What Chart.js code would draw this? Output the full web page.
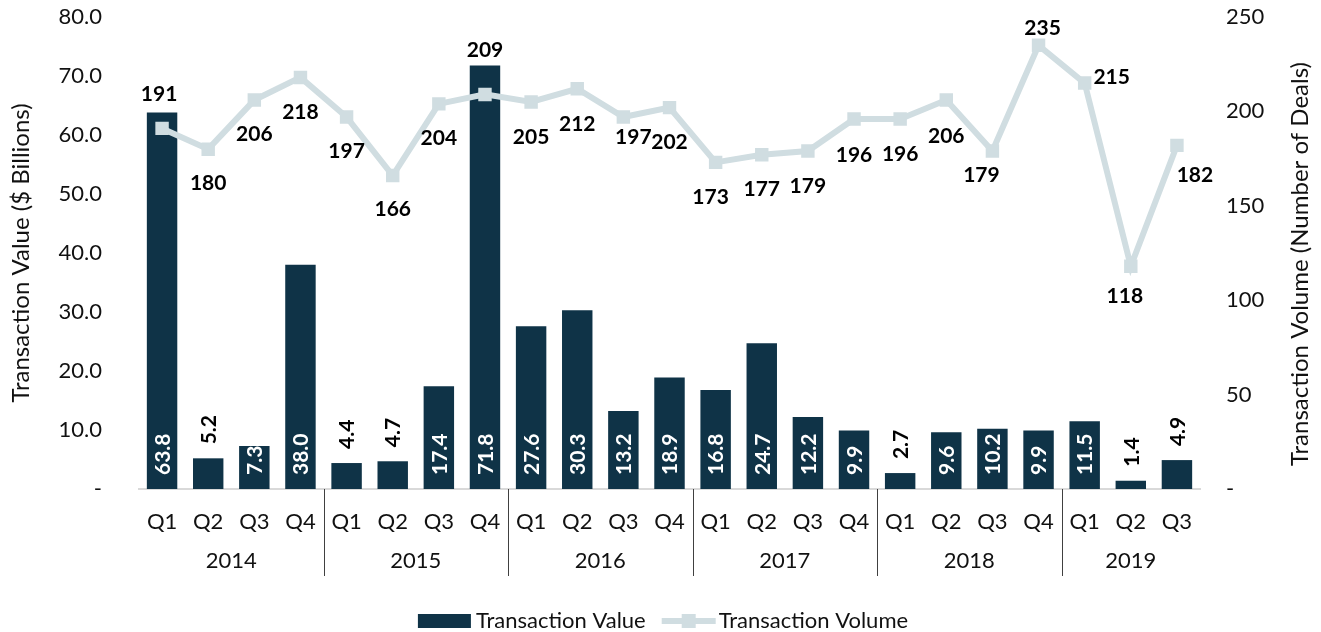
<!DOCTYPE html>
<html><head><meta charset="utf-8">
<script src="https://cdn.jsdelivr.net/npm/chart.js@4/dist/chart.umd.min.js"></script>
<style>html,body{margin:0;padding:0;background:#fff;}#wrap{width:1321px;height:632px;}</style>
</head><body><div id="wrap"><canvas id="c" width="1321" height="632"></canvas></div>
<script>
// ---- data ----
const quarters = ['Q1','Q2','Q3','Q4','Q1','Q2','Q3','Q4','Q1','Q2','Q3','Q4','Q1','Q2','Q3','Q4','Q1','Q2','Q3','Q4','Q1','Q2','Q3'];
const years = ['2014','2015','2016','2017','2018','2019'];
const quartersPerYear = [4,4,4,4,4,3];
const transactionValue = [63.8,5.2,7.3,38.0,4.4,4.7,17.4,71.8,27.6,30.3,13.2,18.9,16.8,24.7,12.2,9.9,2.7,9.6,10.2,9.9,11.5,1.4,4.9];
const transactionVolume = [191,180,206,218,197,166,204,209,205,212,197,202,173,177,179,196,196,206,179,235,215,118,182];
const valueTicks = [0,10,20,30,40,50,60,70,80];
const volumeTicks = [0,50,100,150,200,250];
const rightAxisTitle = 'Transaction Volume (Number of Deals)';
// label placement relative to each line point (style, not data)
const volumeLabelOffsets = [[-3,-34],[0,34],[0,34],[0,35],[0,34],[0,34],[0,34],[0,-44],[0,35],[0,35],[10,20],[0,35],[-5,35],[0,34],[0,35],[0,36],[0,35],[0,36],[-11,24],[4,-17],[27,-6],[-6,30],[18,30]];

const FONT = 'Lato, "Open Sans", sans-serif';
const BAR_COLOR = '#0f3347';
const LINE_COLOR = '#d0dde1';
const TEXT_COLOR = '#111111';

const overlay = {
  id: 'overlay',
  afterDatasetsDraw(chart) {
    const ctx = chart.ctx;
    ctx.save();
    // bar value labels (rotated)
    ctx.font = 'bold 21px ' + FONT;
    chart.getDatasetMeta(0).data.forEach((bar, i) => {
      const txt = transactionValue[i].toFixed(1);
      const w = ctx.measureText(txt).width;
      const h = bar.base - bar.y;
      let start, color;
      if (h > w + 12) { start = bar.base - 14; color = '#ffffff'; }
      else { start = bar.y - 14; color = '#000000'; }
      ctx.save();
      ctx.translate(bar.x, start);
      ctx.rotate(-Math.PI / 2);
      ctx.fillStyle = color;
      ctx.textAlign = 'left';
      ctx.textBaseline = 'middle';
      ctx.fillText(txt, 0, 1);
      ctx.restore();
    });
    // line value labels
    ctx.font = 'bold 21px ' + FONT;
    ctx.fillStyle = '#000';
    ctx.textAlign = 'center';
    ctx.textBaseline = 'middle';
    chart.getDatasetMeta(1).data.forEach((pt, i) => {
      const o = volumeLabelOffsets[i];
      ctx.fillText(String(transactionVolume[i]), pt.x + o[0], pt.y + o[1]);
    });
    ctx.restore();
  },
  afterDraw(chart) {
    const ctx = chart.ctx;
    const xs = chart.scales.x;
    const area = chart.chartArea;
    ctx.save();
    // right axis title, reading upwards
    ctx.save();
    ctx.font = '24px ' + FONT;
    ctx.fillStyle = TEXT_COLOR;
    ctx.textAlign = 'center';
    ctx.textBaseline = 'middle';
    ctx.translate(1300, 264);
    ctx.rotate(-Math.PI / 2);
    ctx.fillText(rightAxisTitle, 0, 0);
    ctx.restore();
    // year group labels and separators
    ctx.font = '22px ' + FONT;
    ctx.fillStyle = TEXT_COLOR;
    ctx.textAlign = 'center';
    ctx.textBaseline = 'middle';
    let idx = 0;
    years.forEach((y, g) => {
      const first = idx, last = idx + quartersPerYear[g] - 1;
      const cx = (xs.getPixelForValue(first) + xs.getPixelForValue(last)) / 2;
      ctx.fillText(y, cx, 561);
      if (g > 0) {
        const sx = Math.round((xs.getPixelForValue(first - 1) + xs.getPixelForValue(first)) / 2) + 0.5;
        ctx.strokeStyle = '#404040';
        ctx.lineWidth = 1;
        ctx.beginPath();
        ctx.moveTo(sx, area.bottom);
        ctx.lineTo(sx, 576);
        ctx.stroke();
      }
      idx += quartersPerYear[g];
    });
    // legend
    ctx.font = '22px ' + FONT;
    const t1 = chart.data.datasets[0].label, t2 = chart.data.datasets[1].label;
    const w1 = ctx.measureText(t1).width, w2 = ctx.measureText(t2).width;
    const box = 53, gap1 = 5, gap2 = 16, lineW = 54, gap3 = 3;
    const total = box + gap1 + w1 + gap2 + lineW + gap3 + w2;
    let x = 663 - total / 2;
    const ly = 621;
    ctx.fillStyle = BAR_COLOR;
    ctx.fillRect(x, ly - 7, box, 14);
    x += box + gap1;
    ctx.fillStyle = TEXT_COLOR;
    ctx.textAlign = 'left';
    ctx.fillText(t1, x, ly);
    x += w1 + gap2;
    ctx.strokeStyle = LINE_COLOR;
    ctx.lineWidth = 6;
    ctx.beginPath();
    ctx.moveTo(x, ly); ctx.lineTo(x + lineW, ly); ctx.stroke();
    ctx.fillStyle = LINE_COLOR;
    ctx.fillRect(x + lineW / 2 - 7, ly - 7, 14, 14);
    x += lineW + gap3;
    ctx.fillStyle = TEXT_COLOR;
    ctx.fillText(t2, x, ly);
    ctx.restore();
  }
};

function noPad(s) { s.paddingTop = 0; s.paddingBottom = 0; s.paddingLeft = 0; s.paddingRight = 0; }

new Chart(document.getElementById('c'), {
  data: {
    labels: quarters,
    datasets: [
      { type: 'bar', label: 'Transaction Value', data: transactionValue, yAxisID: 'y',
        backgroundColor: BAR_COLOR, barPercentage: 0.66, categoryPercentage: 1.0, order: 1 },
      { type: 'line', label: 'Transaction Volume', data: transactionVolume, yAxisID: 'y1',
        borderColor: LINE_COLOR, borderWidth: 6, tension: 0, pointStyle: 'rect', pointRadius: 9.5,
        pointBackgroundColor: LINE_COLOR, pointBorderWidth: 0, pointHoverRadius: 9.5, order: 0 }
    ]
  },
  options: {
    responsive: false,
    animation: false,
    devicePixelRatio: 1,
    layout: { padding: { top: 17, bottom: 0, left: 0, right: 0 } },
    plugins: { legend: { display: false }, tooltip: { enabled: false } },
    scales: {
      x: {
        grid: { display: false },
        border: { display: true, color: '#d9d9d9', width: 2 },
        ticks: { color: TEXT_COLOR, font: { family: FONT, size: 22 }, padding: 12, maxRotation: 0, autoSkip: false },
        afterFit(s) { s.height = 143; noPad(s); }
      },
      y: {
        position: 'left', min: 0, max: 80,
        afterBuildTicks(s) { s.ticks = valueTicks.map(v => ({ value: v })); },
        grid: { display: false }, border: { display: false },
        ticks: { color: TEXT_COLOR, font: { family: FONT, size: 22 }, padding: 29,
          callback: v => v === 0 ? '-' : v.toFixed(1) },
        title: { display: true, text: 'Transaction Value ($ Billions)', color: TEXT_COLOR,
          font: { family: FONT, size: 24 }, padding: { top: 7, bottom: 0 } },
        afterFit(s) { s.width = 139; noPad(s); }
      },
      y1: {
        position: 'right', min: 0, max: 250,
        afterBuildTicks(s) { s.ticks = volumeTicks.map(v => ({ value: v })); },
        grid: { display: false, drawOnChartArea: false }, border: { display: false },
        ticks: { color: TEXT_COLOR, font: { family: FONT, size: 22 }, padding: 18,
          callback: v => v === 0 ? '-' : String(v) },
        title: { display: false },
        afterFit(s) { s.width = 121; noPad(s); }
      }
    }
  },
  plugins: [overlay]
});
</script></body></html>
